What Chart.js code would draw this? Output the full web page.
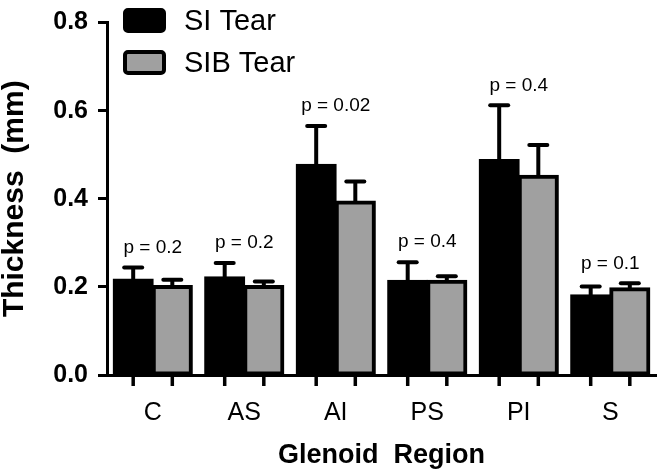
<!DOCTYPE html>
<html>
<head>
<meta charset="utf-8">
<script src="https://cdn.jsdelivr.net/npm/chart.js@4.4.0/dist/chart.umd.min.js"></script>
<style>
  html, body { margin: 0; padding: 0; background: #fff; }
  #wrap { width: 661px; height: 473px; }
</style>
</head>
<body>
<div id="wrap"><canvas id="myChart"></canvas></div>
<script>
const regions = ['C', 'AS', 'AI', 'PS', 'PI', 'S'];
const siTear = [0.217, 0.222, 0.477, 0.214, 0.488, 0.181];
const siTearErr = [0.027, 0.032, 0.088, 0.042, 0.124, 0.020];
const sibTear = [0.202, 0.202, 0.394, 0.214, 0.452, 0.197];
const sibTearErr = [0.014, 0.010, 0.045, 0.010, 0.070, 0.011];
const pLabels = ['p = 0.2', 'p = 0.2', 'p = 0.02', 'p = 0.4', 'p = 0.4', 'p = 0.1'];
const yTicks = [0, 0.2, 0.4, 0.6, 0.8];

const FONT = "'Liberation Sans', Arial, sans-serif";

// error bars (upper only), x ticks under each bar, p-value labels, legend
const extras = {
  id: 'extras',
  afterDatasetsDraw(chart) {
    const ctx = chart.ctx;
    const y = chart.scales.y;
    const x = chart.scales.x;
    const area = chart.chartArea;
    const tops = regions.map(() => Infinity);
    ctx.save();
    ctx.strokeStyle = '#000';
    chart.data.datasets.forEach((ds, di) => {
      const meta = chart.getDatasetMeta(di);
      meta.data.forEach((bar, i) => {
        const top = y.getPixelForValue(ds.data[i] + ds.errors[i]);
        tops[i] = Math.min(tops[i], top);
        ctx.lineWidth = 4;
        ctx.lineCap = 'butt';
        ctx.beginPath(); ctx.moveTo(bar.x, bar.y); ctx.lineTo(bar.x, top); ctx.stroke();
        ctx.lineCap = 'round';
        ctx.beginPath(); ctx.moveTo(bar.x - 9, top); ctx.lineTo(bar.x + 9, top); ctx.stroke();
        // tick mark under the bar
        ctx.lineCap = 'butt';
        ctx.lineWidth = 3.5;
        ctx.beginPath(); ctx.moveTo(bar.x, area.bottom); ctx.lineTo(bar.x, area.bottom + 11); ctx.stroke();
      });
    });

    ctx.fillStyle = '#000';
    ctx.font = '19px ' + FONT;
    ctx.textAlign = 'center';
    ctx.textBaseline = 'middle';
    pLabels.forEach((t, i) => {
      ctx.fillText(t, x.getPixelForValue(i), tops[i] - 20);
    });

    // legend
    ctx.textAlign = 'left';
    ctx.font = '29px ' + FONT;
    chart.data.datasets.forEach((ds, di) => {
      const by = 8 + di * 42;
      ctx.beginPath();
      ctx.roundRect(125, by + 2, 39, 21, 3);
      ctx.fillStyle = ds.backgroundColor;
      ctx.fill();
      ctx.lineWidth = 4;
      ctx.strokeStyle = '#000';
      ctx.stroke();
      ctx.fillStyle = '#000';
      ctx.fillText(ds.label, 184, by + 14);
    });
    ctx.restore();
  }
};

new Chart(document.getElementById('myChart'), {
  type: 'bar',
  data: {
    labels: regions,
    datasets: [
      { label: 'SI Tear', data: siTear, errors: siTearErr,
        backgroundColor: '#000000', borderColor: '#000000', borderWidth: 3, borderSkipped: false, inflateAmount: 1 },
      { label: 'SIB Tear', data: sibTear, errors: sibTearErr,
        backgroundColor: '#a0a0a0', borderColor: '#000000', borderWidth: 4, borderSkipped: false, inflateAmount: 1 }
    ]
  },
  options: {
    responsive: true,
    maintainAspectRatio: false,
    animation: false,
    datasets: { bar: { categoryPercentage: 0.855, barPercentage: 1.0 } },
    layout: { padding: { top: 12, right: 5, bottom: 0, left: 0 } },
    plugins: { legend: { display: false }, tooltip: { enabled: false } },
    scales: {
      x: {
        grid: { display: false, drawTicks: false },
        border: { display: true, color: '#000', width: 3 },
        ticks: { color: '#000', padding: 23, font: { family: FONT, size: 25 } },
        title: { display: true, text: 'Glenoid  Region', color: '#000',
          font: { family: FONT, size: 27, weight: 'bold' }, padding: { top: 0, bottom: 1 } },
        afterFit(s) { s.height = 98; }
      },
      y: {
        min: 0, max: 0.8,
        afterBuildTicks(s) { s.ticks = yTicks.map(v => ({ value: v })); },
        grid: { drawOnChartArea: false, drawTicks: true, tickLength: 9, tickWidth: 3, tickColor: '#000' },
        border: { display: true, color: '#000', width: 3 },
        ticks: { color: '#000', padding: 10, font: { family: FONT, size: 25, weight: 'bold', lineHeight: 1 },
          callback: v => v.toFixed(1) },
        title: { display: true, text: 'Thickness  (mm)', color: '#000',
          font: { family: FONT, size: 30, weight: 'bold', lineHeight: 1 }, padding: { top: 0, bottom: 0 } },
        afterFit(s) { s.width = 107; }
      }
    }
  },
  plugins: [extras]
});
</script>
</body>
</html>
